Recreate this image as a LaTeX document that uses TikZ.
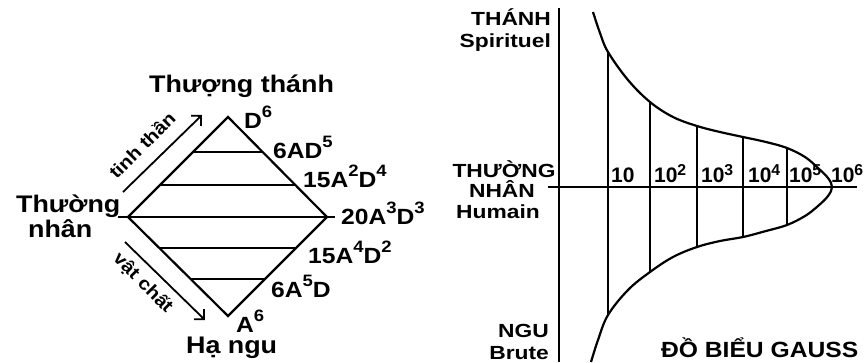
\documentclass[tikz,border=0pt]{standalone}
\usepackage{fontspec}
\setmainfont{Liberation Sans}
\newfontfamily\lblfont{Liberation Sans}[FakeStretch=1.12]
\newfontfamily\widefont{Liberation Sans}[FakeStretch=1.2]
\usetikzlibrary{positioning,calc,arrows.meta}
\newcommand\pw[2][.5em]{\raisebox{#1}{\scalebox{.75}{#2}}}

\begin{document}
\begin{tikzpicture}[x=1pt, y=-1pt, line width=2.2pt,
>={Straight Barb[length=7pt,width=14pt]},
big/.style={font=\lblfont\bfseries\fontsize{24}{26}\selectfont, inner sep=0pt, anchor=base west},
term/.style={font=\lblfont\bfseries\fontsize{22}{24}\selectfont, inner sep=0pt, anchor=base west},
side/.style={font=\lblfont\bfseries\fontsize{18}{20}\selectfont, inner sep=0pt},
axlbl/.style={font=\widefont\bfseries\fontsize{19}{21}\selectfont, inner sep=0pt},
pow/.style={font=\bfseries\fontsize{21}{23}\selectfont, inner sep=0pt, anchor=base west}]

\useasboundingbox (0,0) rectangle (865,362);

% the diamond
\coordinate (top) at (228,117);
\coordinate (left) at (128,217);
\coordinate (right) at (327,217);
\coordinate (bot) at (228,316);
\coordinate (lead-l) at (118,217);
\coordinate (lead-r) at (335,217);

\node[big] (holy) at (148,92) {Thượng thánh};
\node[big] (mid1) at (15,212) {Thường};
\node[big] (mid2) at (27,237) {nhân};
\node[big] (low) at (185,353) {Hạ ngu};

\node[term] (t6) at (243,128) {D\pw{6}};
\node[term] (t5) at (272,158) {6AD\pw{5}};
\node[term] (t4) at (302,187) {15A\pw{2}D\pw{4}};
\node[term] (t3) at (340,224) {20A\pw{3}D\pw{3}};
\node[term] (t2) at (307,263) {15A\pw{4}D\pw{2}};
\node[term] (t1) at (270,297) {6A\pw{5}D};
\node[term] (t0) at (235,332) {A\pw{6}};

\draw (top) -- (right) -- (bot) -- (left) -- cycle;
\draw (lead-l) -- (lead-r);
\draw ($(top)!.35!(left)$) -- ($(top)!.35!(right)$);
\draw ($(top)!.68!(left)$) -- ($(top)!.68!(right)$);
\draw ($(left)!.31!(bot)$) -- ($(right)!.31!(bot)$);
\draw ($(left)!.63!(bot)$) -- ($(right)!.63!(bot)$);

% the two arrows
\coordinate (up1) at (123,192);
\coordinate (up2) at (202,115);
\coordinate (dn1) at (125,242);
\coordinate (dn2) at (205,320);
\draw[->, line width=1.8pt] (up1) -- (up2);
\draw[->, line width=1.8pt] (dn1) -- (dn2);
\node[side, rotate=45] (spirit) at (142,145) {tinh thần};
\node[side, rotate=-45] (matter) at (143,283) {vật chất};

% the Gauss chart
\coordinate (ax-top) at (559,8);
\coordinate (ax-bot) at (559,362);
\coordinate (ax-l) at (548,187);
\coordinate (ax-r) at (857,187);
\draw (ax-top) -- (ax-bot);
\draw (ax-l) -- (ax-r);

\draw plot[smooth, tension=0.6] coordinates {(593,12) (600,33) (608,52) (628,80) (650,102)
  (673,117) (697,126) (720,132) (743,137) (766,142) (787,148) (805,157) (818,168)
  (828,178) (832,187) (828,196) (818,206) (805,216) (787,225) (766,231) (743,237)
  (720,241) (697,247) (673,257) (650,272) (628,290) (608,315) (598,340) (591,362)};

\foreach \x/\a/\b in {608/52/315, 650/102/272, 697/126/247, 743/137/237, 787/148/225}
  \draw (\x,\a) -- (\x,\b);

\foreach \x/\k [count=\i] in {610/, 653/2, 700/3, 747/4, 788/5, 830/6}
  \node[pow] (p\i) at (\x,182) {10\pw[.3em]{\k}};

\node[axlbl, anchor=base east] (sThanh) at (552,25) {THÁNH};
\node[axlbl, anchor=base east] (sSpir) at (552,47) {Spirituel};
\node[axlbl, anchor=base] (sThuong) at (504,177) {THƯỜNG};
\node[axlbl, anchor=base] (sNhan) at (502,197) {NHÂN};
\node[axlbl, anchor=base] (sHum) at (498,218) {Humain};
\node[axlbl, anchor=base east] (sNgu) at (550,337) {NGU};
\node[axlbl, anchor=base east] (sBrute) at (550,359) {Brute};
\node[term] (title) at (660,357) {ĐỒ BIỂU GAUSS};

\end{tikzpicture}
\end{document}
